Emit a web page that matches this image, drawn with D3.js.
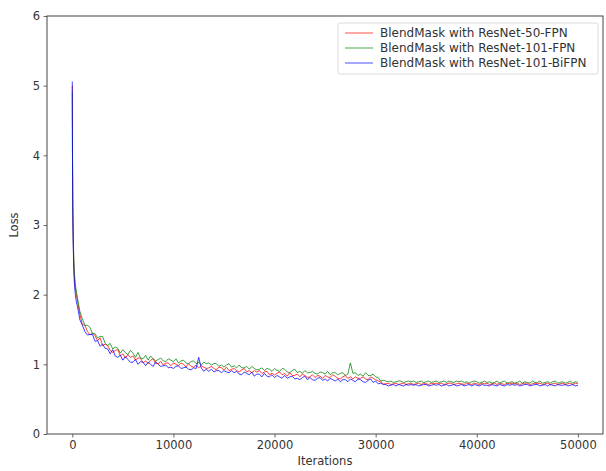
<!DOCTYPE html>
<html>
<head>
<meta charset="utf-8">
<script src="https://cdn.jsdelivr.net/npm/d3@7"></script>
<style>
  body { margin: 0; background: #fff; }
  text { font-family: "DejaVu Sans", sans-serif; fill: #333; }
</style>
</head>
<body>
<div id="chart"></div>
<script>
// training iterations (x)
var iterations = [0, 20, 50, 100, 150, 200, 300, 400, 500, 600, 750,
  1000, 1250, 1500, 1750, 2000, 2250, 2500, 2750, 3000, 3250,
  3500, 3750, 4000, 4250, 4500, 4750, 5000, 5250, 5500, 5750,
  6000, 6250, 6500, 6750, 7000, 7250, 7500, 7750, 8000, 8250,
  8500, 8750, 9000, 9250, 9500, 9750, 10000, 10250, 10500, 10750,
  11000, 11250, 11500, 11750, 12000, 12250, 12500, 12750, 13000, 13250,
  13500, 13750, 14000, 14250, 14500, 14750, 15000, 15250, 15500, 15750,
  16000, 16250, 16500, 16750, 17000, 17250, 17500, 17750, 18000, 18250,
  18500, 18750, 19000, 19250, 19500, 19750, 20000, 20250, 20500, 20750,
  21000, 21250, 21500, 21750, 22000, 22250, 22500, 22750, 23000, 23250,
  23500, 23750, 24000, 24250, 24500, 24750, 25000, 25250, 25500, 25750,
  26000, 26250, 26500, 26750, 27000, 27250, 27500, 27750, 28000, 28250,
  28500, 28750, 29000, 29250, 29500, 29750, 30000, 30250, 30500, 30750,
  31000, 31250, 31500, 31750, 32000, 32250, 32500, 32750, 33000, 33250,
  33500, 33750, 34000, 34250, 34500, 34750, 35000, 35250, 35500, 35750,
  36000, 36250, 36500, 36750, 37000, 37250, 37500, 37750, 38000, 38250,
  38500, 38750, 39000, 39250, 39500, 39750, 40000, 40250, 40500, 40750,
  41000, 41250, 41500, 41750, 42000, 42250, 42500, 42750, 43000, 43250,
  43500, 43750, 44000, 44250, 44500, 44750, 45000, 45250, 45500, 45750,
  46000, 46250, 46500, 46750, 47000, 47250, 47500, 47750, 48000, 48250,
  48500, 48750, 49000, 49250, 49500, 49750, 50000];

// loss, ResNet-50-FPN
var lossR50 = [5.00, 4.10, 3.25, 2.75, 2.45, 2.27, 2.10, 2.00, 1.92, 1.84, 1.72,
  1.57, 1.56, 1.47, 1.42, 1.45, 1.41, 1.34, 1.38, 1.27, 1.29,
  1.27, 1.20, 1.17, 1.20, 1.21, 1.12, 1.15, 1.09, 1.14, 1.10,
  1.12, 1.06, 1.09, 1.09, 1.02, 1.05, 1.01, 1.06, 1.08, 1.01,
  1.01, 1.04, 0.99, 1.02, 1.02, 0.98, 1.02, 1.00, 0.98, 1.02,
  1.00, 0.96, 1.01, 0.97, 0.96, 0.99, 0.95, 0.98, 0.96, 0.94,
  0.95, 0.97, 0.94, 0.92, 0.96, 0.95, 0.92, 0.96, 0.91, 0.93,
  0.94, 0.91, 0.89, 0.92, 0.94, 0.89, 0.91, 0.88, 0.91, 0.89,
  0.91, 0.87, 0.89, 0.90, 0.85, 0.87, 0.85, 0.87, 0.89, 0.85,
  0.87, 0.83, 0.88, 0.84, 0.84, 0.86, 0.82, 0.86, 0.84, 0.81,
  0.82, 0.85, 0.81, 0.84, 0.83, 0.80, 0.84, 0.82, 0.81, 0.85,
  0.83, 0.80, 0.79, 0.82, 0.84, 0.80, 0.82, 0.79, 0.82, 0.80,
  0.80, 0.82, 0.79, 0.78, 0.82, 0.80, 0.78, 0.76, 0.75, 0.72,
  0.72, 0.73, 0.71, 0.72, 0.73, 0.71, 0.72, 0.73, 0.71, 0.72,
  0.73, 0.71, 0.72, 0.73, 0.71, 0.73, 0.72, 0.71, 0.73, 0.72,
  0.73, 0.72, 0.73, 0.71, 0.72, 0.73, 0.73, 0.71, 0.72, 0.73,
  0.72, 0.71, 0.73, 0.72, 0.71, 0.73, 0.72, 0.71, 0.73, 0.72,
  0.73, 0.71, 0.72, 0.73, 0.71, 0.73, 0.72, 0.71, 0.73, 0.72,
  0.73, 0.72, 0.73, 0.71, 0.72, 0.73, 0.73, 0.71, 0.72, 0.73,
  0.72, 0.73, 0.71, 0.72, 0.73, 0.71, 0.72, 0.73, 0.71, 0.72,
  0.73, 0.71, 0.72, 0.73, 0.71, 0.73, 0.72];

// loss, ResNet-101-FPN
var lossR101 = [4.90, 4.05, 3.30, 2.80, 2.50, 2.32, 2.15, 2.05, 1.97, 1.88, 1.76,
  1.65, 1.56, 1.56, 1.53, 1.44, 1.44, 1.38, 1.40, 1.40, 1.30,
  1.27, 1.30, 1.22, 1.25, 1.23, 1.16, 1.21, 1.17, 1.14, 1.20,
  1.16, 1.10, 1.17, 1.09, 1.08, 1.13, 1.06, 1.12, 1.08, 1.05,
  1.07, 1.09, 1.05, 1.04, 1.08, 1.06, 1.04, 1.08, 1.02, 1.05,
  1.06, 1.02, 1.01, 1.04, 1.05, 1.01, 1.03, 0.99, 1.03, 1.01,
  1.02, 0.99, 1.01, 1.01, 0.97, 0.99, 0.96, 0.99, 1.01, 0.96,
  0.98, 0.95, 0.99, 0.95, 0.95, 0.97, 0.93, 0.97, 0.94, 0.92,
  0.93, 0.95, 0.91, 0.94, 0.93, 0.90, 0.94, 0.91, 0.90, 0.94,
  0.93, 0.89, 0.88, 0.91, 0.93, 0.88, 0.90, 0.87, 0.91, 0.88,
  0.88, 0.90, 0.87, 0.86, 0.89, 0.88, 0.86, 0.90, 0.85, 0.88,
  0.88, 0.85, 0.87, 0.88, 0.84, 0.86, 1.02, 0.87, 0.88, 0.84,
  0.86, 0.83, 0.88, 0.84, 0.84, 0.86, 0.82, 0.81, 0.76, 0.77,
  0.76, 0.75, 0.76, 0.74, 0.75, 0.76, 0.76, 0.74, 0.75, 0.76,
  0.75, 0.76, 0.74, 0.75, 0.76, 0.74, 0.75, 0.76, 0.74, 0.75,
  0.76, 0.74, 0.75, 0.76, 0.74, 0.76, 0.75, 0.74, 0.76, 0.75,
  0.76, 0.74, 0.75, 0.73, 0.75, 0.76, 0.75, 0.73, 0.74, 0.76,
  0.74, 0.75, 0.73, 0.74, 0.76, 0.73, 0.75, 0.76, 0.73, 0.74,
  0.75, 0.73, 0.74, 0.76, 0.73, 0.75, 0.74, 0.73, 0.76, 0.74,
  0.74, 0.76, 0.73, 0.74, 0.75, 0.73, 0.75, 0.76, 0.73, 0.74,
  0.75, 0.73, 0.74, 0.76, 0.73, 0.75, 0.74];

// loss, ResNet-101-BiFPN
var lossBiFPN = [5.06, 4.00, 3.15, 2.65, 2.35, 2.18, 2.00, 1.90, 1.84, 1.76, 1.64,
  1.56, 1.47, 1.42, 1.43, 1.43, 1.33, 1.34, 1.26, 1.29, 1.23,
  1.22, 1.15, 1.21, 1.12, 1.10, 1.13, 1.06, 1.11, 1.07, 1.03,
  1.03, 1.07, 1.00, 1.04, 1.03, 0.98, 1.03, 1.00, 0.97, 1.04,
  1.00, 0.97, 0.98, 0.99, 0.95, 0.96, 0.94, 0.97, 0.98, 0.94,
  0.95, 0.96, 0.93, 0.92, 0.95, 0.94, 1.10, 0.95, 0.90, 0.93,
  0.90, 0.93, 0.89, 0.91, 0.91, 0.88, 0.91, 0.89, 0.88, 0.91,
  0.88, 0.90, 0.86, 0.85, 0.89, 0.87, 0.85, 0.89, 0.83, 0.86,
  0.86, 0.82, 0.87, 0.83, 0.82, 0.85, 0.81, 0.84, 0.82, 0.80,
  0.84, 0.80, 0.82, 0.83, 0.79, 0.80, 0.78, 0.81, 0.83, 0.78,
  0.81, 0.78, 0.77, 0.80, 0.81, 0.77, 0.79, 0.76, 0.80, 0.78,
  0.76, 0.79, 0.75, 0.78, 0.78, 0.75, 0.79, 0.77, 0.75, 0.79,
  0.78, 0.75, 0.74, 0.77, 0.79, 0.74, 0.76, 0.72, 0.73, 0.71,
  0.71, 0.69, 0.70, 0.71, 0.69, 0.71, 0.70, 0.69, 0.71, 0.70,
  0.71, 0.70, 0.71, 0.69, 0.70, 0.71, 0.71, 0.69, 0.70, 0.71,
  0.70, 0.71, 0.69, 0.70, 0.71, 0.69, 0.70, 0.71, 0.69, 0.70,
  0.71, 0.69, 0.70, 0.71, 0.69, 0.71, 0.70, 0.69, 0.71, 0.70,
  0.70, 0.69, 0.71, 0.70, 0.69, 0.71, 0.70, 0.69, 0.71, 0.70,
  0.71, 0.70, 0.71, 0.69, 0.70, 0.71, 0.71, 0.69, 0.70, 0.71,
  0.71, 0.69, 0.70, 0.71, 0.69, 0.71, 0.70, 0.69, 0.71, 0.70,
  0.70, 0.71, 0.69, 0.70, 0.71, 0.69, 0.70];

var seriesNames = ["BlendMask with ResNet-50-FPN", "BlendMask with ResNet-101-FPN", "BlendMask with ResNet-101-BiFPN"];
var seriesColors = ["#ff0000", "#008000", "#0000ff"];
var xTicks = [0, 10000, 20000, 30000, 40000, 50000];
var yTicks = [0, 1, 2, 3, 4, 5, 6];

var svgWidth = 606;
var svgHeight = 471;

var margin = {top: 16, right: 3, bottom: 37, left: 47};
var width = svgWidth - margin.left - margin.right;
var height = svgHeight - margin.top - margin.bottom;

var svg = d3.select("#chart")
  .append("svg")
  .attr("width", svgWidth)
  .attr("height", svgHeight);

var chartGroup = svg.append("g")
  .attr("transform", `translate(${margin.left}, ${margin.top})`);

var xScale = d3.scaleLinear()
  .domain([-2500, 52480])
  .range([0, width]);

var yScale = d3.scaleLinear()
  .domain([0, 6])
  .range([height, 0]);

// lines
var allSeries = [lossR50, lossR101, lossBiFPN];
var line = d3.line()
  .x((d, i) => xScale(iterations[i]))
  .y(d => yScale(d));

chartGroup.append("clipPath").attr("id", "plotclip")
  .append("rect").attr("width", width).attr("height", height);

chartGroup.append("g")
  .attr("clip-path", "url(#plotclip)")
  .selectAll("path")
  .data(allSeries)
  .enter()
  .append("path")
  .attr("d", line)
  .attr("fill", "none")
  .attr("stroke", (d, i) => seriesColors[i])
  .attr("stroke-width", 0.75)
  .attr("stroke-linejoin", "round");

// axes
var bottomAxis = d3.axisBottom(xScale)
  .tickValues(xTicks)
  .tickFormat(d3.format("d"))
  .tickSize(3.5)
  .tickPadding(3.5);
var leftAxis = d3.axisLeft(yScale)
  .tickValues(yTicks)
  .tickFormat(d3.format("d"))
  .tickSize(3.5)
  .tickPadding(3.5);

var xAxisG = chartGroup.append("g")
  .attr("transform", `translate(0, ${height})`)
  .call(bottomAxis);
var yAxisG = chartGroup.append("g")
  .call(leftAxis);

[xAxisG, yAxisG].forEach(function (g) {
  g.select(".domain").remove();
  g.selectAll(".tick line").attr("stroke", "#444").attr("stroke-width", 0.8);
  g.selectAll(".tick text")
    .style("font-family", "DejaVu Sans, sans-serif")
    .style("font-size", "11.5px")
    .attr("fill", "#333");
});

// frame
chartGroup.append("rect")
  .attr("width", width)
  .attr("height", height)
  .attr("fill", "none")
  .attr("stroke", "#444")
  .attr("stroke-width", 1);

// legend
var legend = svg.append("g").attr("transform", "translate(338, 23)");
legend.append("rect")
  .attr("width", 260)
  .attr("height", 51)
  .attr("rx", 2)
  .attr("fill", "#fff")
  .attr("fill-opacity", 0.8)
  .attr("stroke", "#d0d0d0")
  .attr("stroke-width", 0.8);

var entries = legend.selectAll(".entry")
  .data(seriesNames)
  .enter()
  .append("g")
  .attr("transform", (d, i) => `translate(0, ${10 + i * 15})`);

entries.append("line")
  .attr("x1", 7).attr("x2", 35)
  .attr("y1", 0).attr("y2", 0)
  .attr("stroke", (d, i) => seriesColors[i])
  .attr("stroke-width", 0.7);

entries.append("text")
  .attr("x", 42)
  .attr("dy", "0.35em")
  .style("font-size", "12px")
  .text(d => d);

// axis labels
svg.append("text")
  .attr("transform", `translate(${margin.left + width / 2}, 465)`)
  .attr("text-anchor", "middle")
  .style("font-size", "11.5px")
  .text("Iterations");

svg.append("text")
  .attr("transform", `translate(14, ${margin.top + height / 2}) rotate(-90)`)
  .attr("text-anchor", "middle")
  .attr("dy", "0.35em")
  .style("font-size", "11.5px")
  .text("Loss");
</script>
</body>
</html>
